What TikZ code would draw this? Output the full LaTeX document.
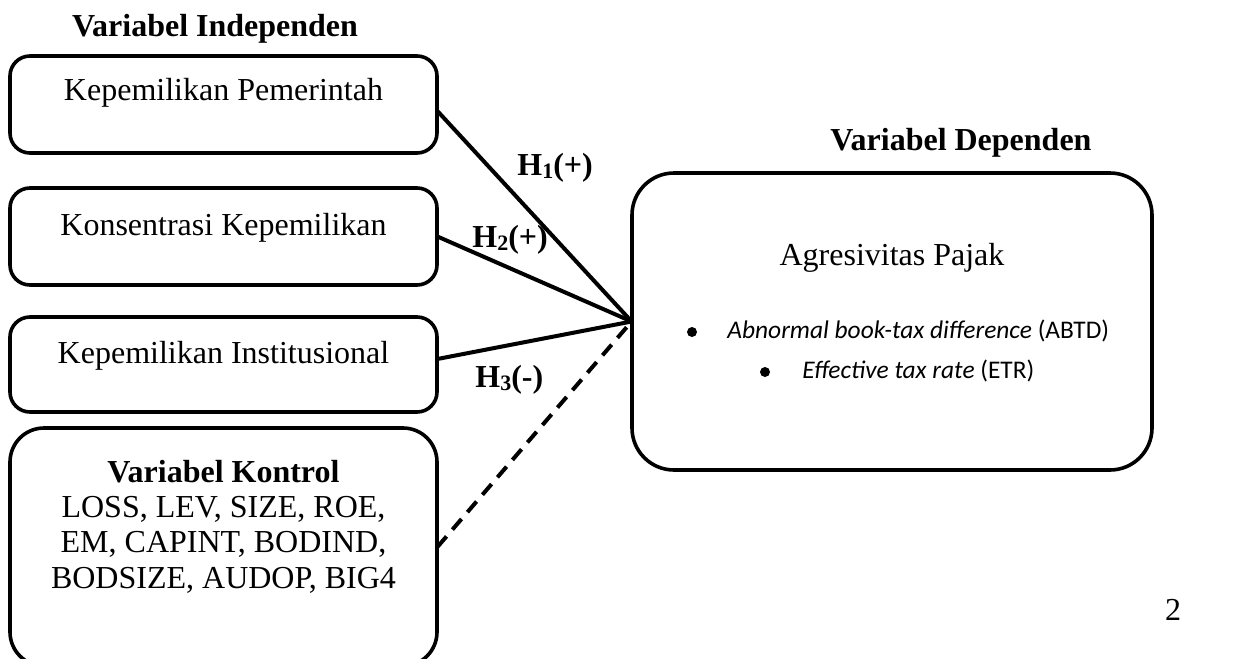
\documentclass[tikz,border=0pt]{standalone}
\usepackage{fontspec}
\setmainfont{Liberation Serif}
\newfontfamily\calib{Carlito}
\begin{document}
\begin{tikzpicture}[x=0.5pt,y=-0.5pt,
  box/.style={draw, line width=1.8pt, rounded corners=#1},
  box/.default=10pt,
  txt/.style={inner sep=0pt, anchor=base, font=\fontsize{16}{19}\selectfont},
  btxt/.style={txt, font=\fontsize{16}{19}\selectfont\bfseries},
  ctxt/.style={inner sep=0pt, anchor=base west, font=\fontsize{12.7}{15}\selectfont\calib},
  hl/.style={inner sep=0pt, anchor=base west, font=\fontsize{16}{19}\selectfont\bfseries},
  conn/.style={line width=2pt},
  dconn/.style={line width=2pt, dash pattern=on 7pt off 4.5pt},
  bul/.style={circle, fill=black, inner sep=0pt, minimum size=5pt}
]
\useasboundingbox (0,0) rectangle (1243,659);
\clip (0,0) rectangle (1243,659);

% titles
\node[btxt] (tind) at (215,36) {Variabel Independen};
\node[btxt] (tdep) at (961,150) {Variabel Dependen};

% left boxes
\draw[box] (10,56) rectangle (437,153);
\node[inner sep=0pt, minimum width=213.5pt, minimum height=48.5pt] (b1) at (223.5,104.5) {};
\draw[box] (10,188) rectangle (437,285);
\node[inner sep=0pt, minimum width=213.5pt, minimum height=48.5pt] (b2) at (223.5,236.5) {};
\draw[box] (10,317) rectangle (437,412);
\node[inner sep=0pt, minimum width=213.5pt, minimum height=47.5pt] (b3) at (223.5,364.5) {};
\draw[box=17pt] (10,428) rectangle (437,666);
\node[inner sep=0pt, minimum width=213.5pt, minimum height=119pt] (b4) at (223.5,547) {};

\node[txt] (t1) at (223.5,100) {Kepemilikan Pemerintah};
\node[txt] (t2) at (223.5,235) {Konsentrasi Kepemilikan};
\node[txt] (t3) at (223.5,363) {Kepemilikan Institusional};
\node[btxt] (k0) at (223.5,482) {Variabel Kontrol};
\node[txt] (k1) at (223.5,517) {LOSS, LEV, SIZE, ROE,};
\node[txt] (k2) at (223.5,552) {EM, CAPINT, BODIND,};
\node[txt] (k3) at (223.5,588) {BODSIZE, AUDOP, BIG4};

% right box
\draw[box=21pt] (632,173) rectangle (1152,470);
\node[inner sep=0pt, minimum width=260pt, minimum height=148.5pt] (ar) at (892,321.5) {};
\node[txt] (ta) at (892,265) {Agresivitas Pajak};
\node[bul] (bu1) at (692,332) {};
\node[ctxt] (a1) at (727,338) {\itshape Abnormal book-tax difference\upshape{} (ABTD)};
\node[bul] (bu2) at (765,372) {};
\node[ctxt] (a2) at (802,378) {\itshape Effective tax rate\upshape{} (ETR)};

% connectors
\draw[conn] ([yshift=-3.25pt]b1.east) -- (ar.west);
\draw[conn] (b2.east) -- (ar.west);
\draw[conn] ([yshift=2.75pt]b3.east) -- (ar.west);
\draw[dconn] (b4.east) -- (ar.west);

% labels
\node[hl] (h1) at (517,175) {H\raisebox{-1.5pt}{\fontsize{11}{11}\selectfont 1}(+)};
\node[hl] (h2) at (472,247) {H\raisebox{-1.5pt}{\fontsize{11}{11}\selectfont 2}(+)};
\node[hl] (h3) at (475,387) {H\raisebox{-1.5pt}{\fontsize{11}{11}\selectfont 3}(-)};

\node[txt] (pg) at (1173,620) {2};
\end{tikzpicture}
\end{document}
